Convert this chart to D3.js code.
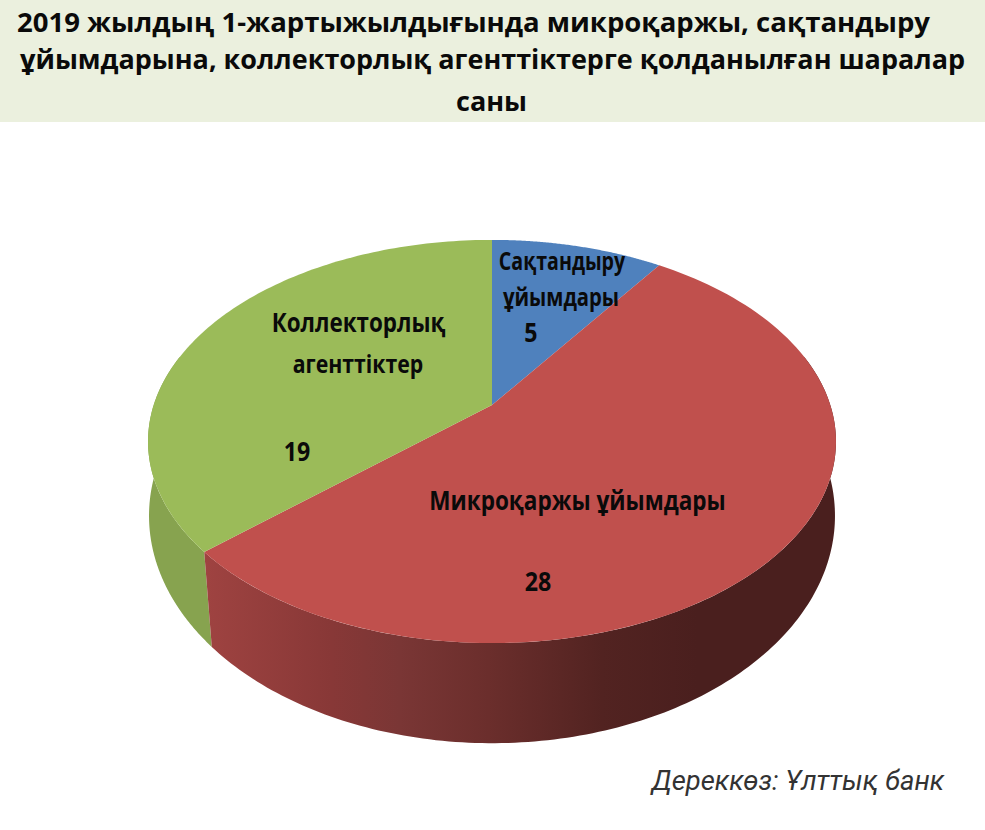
<!DOCTYPE html>
<html><head><meta charset="utf-8">
<script src="https://cdn.jsdelivr.net/npm/d3@7/dist/d3.min.js"></script>
<style>html,body{margin:0;padding:0;background:#fff}svg{display:block}</style></head>
<body><svg id="c" width="985" height="830"></svg>
<script>
const titleLines = ["2019 жылдың 1-жартыжылдығында микроқаржы, сақтандыру","ұйымдарына, коллекторлық агенттіктерге қолданылған шаралар","саны"];
const categories = ["Сақтандыру ұйымдары","Микроқаржы ұйымдары","Коллекторлық агенттіктер"];
const values = [5,28,19];
const colors = ["#4f81bd","#c0504d","#9bbb59"];
const source = "Дереккөз: Ұлттық банк";

const svg = d3.select("#c");
const defs = svg.append("defs");
svg.append("rect").attr("x",0).attr("y",0).attr("width",985).attr("height",122).attr("fill","#ebf0de");
const font = "'Open Sans','Noto Sans',sans-serif";
const titleLayout=[{x:473.5,y:32,w:913},{x:492.5,y:69,w:945},{x:491.5,y:111,w:71}];
svg.append("g").selectAll("text").data(titleLines).join("text")
  .attr("x",(d,i)=>titleLayout[i].x).attr("y",(d,i)=>titleLayout[i].y)
  .attr("textLength",(d,i)=>titleLayout[i].w).attr("lengthAdjust","spacingAndGlyphs")
  .attr("text-anchor","middle").attr("font-family",font).attr("font-weight",700)
  .attr("font-size",27).attr("fill","#0a0a0a").text(d=>d);

// perspective projection of the pie's two circular faces
const topFace={x:492,y:405,A:338.3,B:195,k:0.181};
const botFace={x:492,y:484,A:339.6,B:222.9,k:0.14};
const proj=(f,a)=>{const u=Math.sin(a),v=-Math.cos(a),w=1-f.k*v;return [f.x+f.A*u/w,f.y+f.B*v/w];};
const pie = d3.pie().sort(null).startAngle(0).endAngle(2*Math.PI)(values);
const rad=d=>d*Math.PI/180;
function wall(a0,a1,fill){
  const n=160, s=d3.range(n+1).map(i=>a0+(a1-a0)*i/n);
  const pts=s.map(a=>proj(topFace,a)).concat(s.map(a=>proj(botFace,a)).reverse());
  svg.append("path").attr("d",d3.line()(pts)+"Z").attr("fill",fill);
}
const redG=defs.append("linearGradient").attr("id","redWall").attr("gradientUnits","userSpaceOnUse")
  .attr("x1",204).attr("x2",836).attr("y1",0).attr("y2",0);
[[0,"#9f4341"],[0.2,"#883837"],[0.31,"#7a3635"],[0.45,"#6b2e2c"],[0.63,"#522321"],[0.78,"#4a1f1e"],[1,"#4a1f1e"]]
  .forEach(d=>redG.append("stop").attr("offset",d[0]).attr("stop-color",d[1]));
// front walls (slightly overrun the silhouette; top faces cover the rest)
wall(pie[2].startAngle,rad(285),"#87a34f");
wall(rad(75),pie[1].endAngle,"url(#redWall)");
// top faces
pie.forEach((p,i)=>{
  const n=120, s=d3.range(n+1).map(k=>p.startAngle+(p.endAngle-p.startAngle)*k/n);
  svg.append("path").attr("d",d3.line()([[topFace.x,topFace.y],...s.map(a=>proj(topFace,a))])+"Z").attr("fill",colors[i]);
});
// labels
const labels=[
 {x:562,y:270,t:"Сақтандыру",fs:25,sx:.785},{x:561,y:306,t:"ұйымдары",fs:25,sx:.81},{x:531,y:342,t:values[0],fs:27,sx:.86},
 {x:577.5,y:510,t:"Микроқаржы ұйымдары",fs:27,sx:.835},{x:538,y:591,t:values[1],fs:27,sx:.86},
 {x:358.5,y:332,t:"Коллекторлық",fs:27,sx:.83},{x:358,y:373,t:"агенттіктер",fs:25,sx:.85},{x:297,y:461,t:values[2],fs:27,sx:.86}];
svg.append("g").selectAll("text").data(labels).join("text")
  .attr("x",d=>d.x).attr("y",d=>d.y).attr("text-anchor","middle").attr("font-family",font)
  .attr("font-weight",700).attr("font-size",d=>d.fs).attr("fill","#0a0a0a")
  .attr("transform",d=>`translate(${d.x},0) scale(${d.sx},1) translate(${-d.x},0)`).text(d=>d.t);
svg.append("text").attr("x",798).attr("y",790).attr("text-anchor","middle").attr("font-family","Roboto,sans-serif")
  .attr("font-style","italic").attr("font-size",27.4).attr("fill","#333").text(source);
</script></body></html>
